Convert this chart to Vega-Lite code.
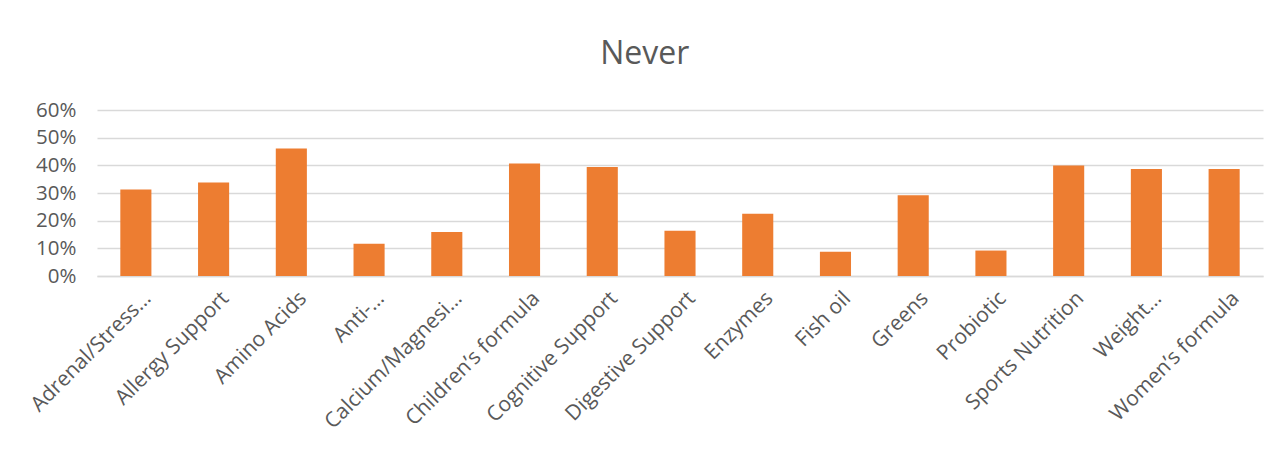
{
  "$schema": "https://vega.github.io/schema/vega-lite/v6.json",
  "autosize": {"type": "none"},
  "width": 1166,
  "height": 166,
  "padding": {"left": 97, "top": 110, "right": 22, "bottom": 173},
  "background": "white",
  "title": {
    "text": "Never",
    "font": "Open Sans",
    "fontSize": 32,
    "fontWeight": "normal",
    "color": "#595959",
    "anchor": "middle",
    "frame": "bounds",
    "offset": 29
  },
  "data": {
    "values": [
      {"category": "Adrenal/Stress…", "value": 0.313},
      {"category": "Allergy Support", "value": 0.338},
      {"category": "Amino Acids", "value": 0.461},
      {"category": "Anti-…", "value": 0.117},
      {"category": "Calcium/Magnesi…", "value": 0.159},
      {"category": "Children’s formula", "value": 0.407},
      {"category": "Cognitive Support", "value": 0.394},
      {"category": "Digestive Support", "value": 0.164},
      {"category": "Enzymes", "value": 0.225},
      {"category": "Fish oil", "value": 0.088},
      {"category": "Greens", "value": 0.292},
      {"category": "Probiotic", "value": 0.092},
      {"category": "Sports Nutrition", "value": 0.399},
      {"category": "Weight…", "value": 0.387},
      {"category": "Women’s formula", "value": 0.387}
    ]
  },
  "mark": {"type": "bar", "color": "#ED7D31"},
  "encoding": {
    "x": {
      "field": "category",
      "type": "nominal",
      "sort": null,
      "scale": {"paddingInner": 0.6, "paddingOuter": 0.3},
      "axis": {
        "title": null,
        "labelAngle": -45,
        "labelAlign": "right",
        "labelBaseline": "middle",
        "labelPadding": 19,
        "labelOffset": 12,
        "labelFont": "Open Sans",
        "labelFontSize": 21,
        "labelColor": "#595959",
        "labelLimit": 400,
        "ticks": false,
        "domainColor": "#D9D9D9",
        "domainWidth": 1.5,
        "grid": false
      }
    },
    "y": {
      "field": "value",
      "type": "quantitative",
      "scale": {"domain": [0, 0.6], "nice": false},
      "axis": {
        "title": null,
        "values": [0, 0.1, 0.2, 0.3, 0.4, 0.5, 0.6],
        "format": ".0%",
        "labelFont": "Open Sans",
        "labelFontSize": 20.5,
        "labelColor": "#595959",
        "labelPadding": 21,
        "ticks": false,
        "domain": false,
        "grid": true,
        "gridColor": "#D9D9D9",
        "gridWidth": 1.5
      }
    }
  },
  "config": {"view": {"stroke": null}}
}
